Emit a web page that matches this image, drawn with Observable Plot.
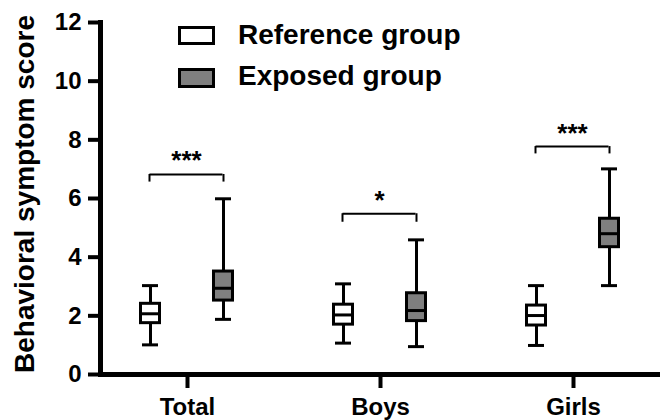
<!DOCTYPE html>
<html><head><meta charset="utf-8">
<script src="https://cdn.jsdelivr.net/npm/d3@7"></script>
<script src="https://cdn.jsdelivr.net/npm/@observablehq/plot@0.6"></script>
<style>
body{margin:0;background:#fff;}
#wrap{position:relative;width:660px;height:420px;font-family:"Liberation Sans",Arial,sans-serif;}
.sw{position:absolute;left:178px;width:37px;box-sizing:border-box;border:3px solid #000;}
.lt{position:absolute;left:238px;font-size:28px;font-weight:bold;line-height:28px;white-space:nowrap;color:#000;}
</style></head><body><div id="wrap"></div>
<script>
const categories = ["Total", "Boys", "Girls"];
const groups = ["Reference group", "Exposed group"];
const groupFill = ["#ffffff", "#7f7f7f"];

const refMin    = [1.01, 1.07, 0.99];
const refQ1     = [1.75, 1.70, 1.67];
const refMedian = [2.07, 2.03, 2.01];
const refQ3     = [2.41, 2.38, 2.35];
const refMax    = [3.03, 3.09, 3.03];

const expMin    = [1.88, 0.95, 3.03];
const expQ1     = [2.52, 1.82, 4.34];
const expMedian = [2.94, 2.18, 4.80];
const expQ3     = [3.51, 2.77, 5.31];
const expMax    = [5.99, 4.59, 7.01];

const significance = ["***", "*", "***"];
const bracketTop = [6.82, 5.48, 7.77];
const bracketLeg = [6.56, 5.19, 7.52];

const yTicks = [0, 2, 4, 6, 8, 10, 12];
const yTitle = "Behavioral symptom score";

const rows = (mn, q1, md, q3, mx) => categories.map((c, i) => ({cat: c, min: mn[i], q1: q1[i], median: md[i], q3: q3[i], max: mx[i]}));
const refRows = rows(refMin, refQ1, refMedian, refQ3, refMax);
const expRows = rows(expMin, expQ1, expMedian, expQ3, expMax);
const brackets = categories.map((c, i) => ({cat: c, top: bracketTop[i], leg: bracketLeg[i], label: significance[i]}));

const BOX = 67.5, CAP = 69;
function boxMarks(data, dx, fill) {
  return [
    Plot.ruleX(data, {x: "cat", y1: "min", y2: "max", dx, strokeWidth: 3, stroke: "black"}),
    Plot.tickY(data, {x: "cat", y: "min", dx, strokeWidth: 3, insetLeft: CAP, insetRight: CAP}),
    Plot.tickY(data, {x: "cat", y: "max", dx, strokeWidth: 3, insetLeft: CAP, insetRight: CAP}),
    Plot.barY(data, {x: "cat", y1: "q1", y2: "q3", dx, fill, stroke: "black", strokeWidth: 3, insetLeft: BOX, insetRight: BOX}),
    Plot.tickY(data, {x: "cat", y: "median", dx, strokeWidth: 3, insetLeft: BOX, insetRight: BOX})
  ];
}

const plot = Plot.plot({
  width: 660, height: 420,
  marginLeft: 100, marginRight: 0, marginTop: 22, marginBottom: 46,
  style: {fontFamily: "Liberation Sans, Arial, sans-serif", background: "white", color: "black"},
  x: {domain: categories, paddingInner: 0.2, paddingOuter: 0.045, label: null},
  y: {domain: [0, 12], label: null},
  marks: [
    ...boxMarks(refRows, -37, groupFill[0]),
    ...boxMarks(expRows, 36, groupFill[1]),
    Plot.ruleX(brackets, {x: "cat", y1: "leg", y2: "top", dx: -38, strokeWidth: 2}),
    Plot.ruleX(brackets, {x: "cat", y1: "leg", y2: "top", dx: 36, strokeWidth: 2}),
    Plot.tickY(brackets, {x: "cat", y: "top", strokeWidth: 2, insetLeft: 39.5, insetRight: 41.5}),
    Plot.text(brackets, {x: "cat", y: "top", text: "label", dx: -1, dy: -5, lineAnchor: "bottom", fontSize: 26, fontWeight: "bold"}),
    Plot.axisY({ticks: yTicks, tickSize: 12, tickPadding: 7, strokeWidth: 4, fontSize: 24, fontWeight: "bold", label: null}),
    Plot.axisX({tickSize: 14, tickPadding: 9, strokeWidth: 4, fontSize: 24, fontWeight: "bold", label: null}),
    Plot.ruleY([0], {strokeWidth: 5}),
    Plot.frame({anchor: "left", strokeWidth: 5}),
    Plot.text([yTitle], {text: d => d, frameAnchor: "left", textAnchor: "middle", rotate: -90, dx: -67, dy: -4.5, lineAnchor: "bottom", fontSize: 28, fontWeight: "bold"})
  ]
});

const wrap = document.getElementById("wrap");
wrap.appendChild(plot);
const legendTops = [[26, 19, 20.6], [68, 20, 62.3]];
groups.forEach((g, i) => {
  const sw = document.createElement("div");
  sw.className = "sw";
  sw.style.top = legendTops[i][0] + "px";
  sw.style.height = legendTops[i][1] + "px";
  sw.style.background = groupFill[i];
  wrap.appendChild(sw);
  const t = document.createElement("div");
  t.className = "lt";
  t.style.top = legendTops[i][2] + "px";
  t.textContent = g;
  wrap.appendChild(t);
});
</script></body></html>
